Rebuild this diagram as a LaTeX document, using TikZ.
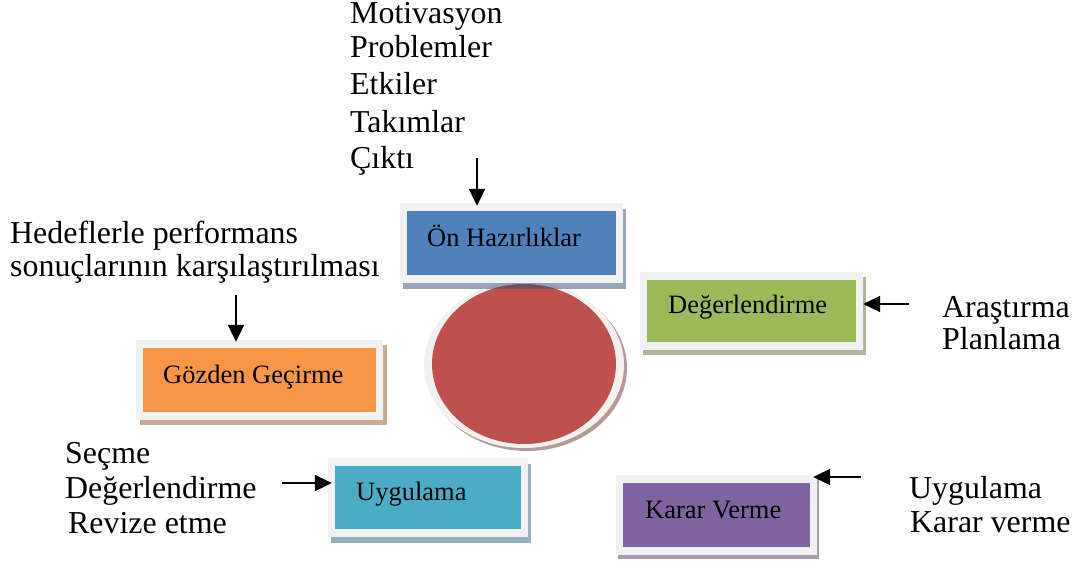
\documentclass[tikz,border=0pt]{standalone}
\usepackage{fontspec}
\setmainfont{Liberation Serif}
\usetikzlibrary{arrows.meta,shapes.geometric}

\definecolor{framegray}{HTML}{F1F1F1}
\definecolor{cblue}{HTML}{4F81BD}
\definecolor{cgreen}{HTML}{9BBB59}
\definecolor{corange}{HTML}{F79646}
\definecolor{cteal}{HTML}{4BACC6}
\definecolor{cpurple}{HTML}{8064A2}
\definecolor{cred}{HTML}{C0504D}

\tikzset{
  outtext/.style={anchor=base west, inner sep=0pt, font=\fontsize{31.9}{36}\selectfont},
  boxtext/.style={anchor=base west, inner sep=0pt, font=\fontsize{26.5}{30}\selectfont},
  frame/.style={fill=framegray, inner sep=0pt},
  pointer/.style={line width=2.2pt, -{Triangle[length=17pt,width=16pt]}},
}

% a framed box: shadow, light frame, coloured fill
% #1 name, #2 colour, #3 x1, #4 y1, #5 x2, #6 y2, #7 shadow dx, #8 shadow dy
\newcommand{\framedbox}[8]{%
  \fill[#2!60!black, opacity=0.5] (#3+#7,#4+#8) rectangle (#5+#7,#6+#8);
  \node[frame, minimum width=#5-#3, minimum height=#6-#4] (#1) at ({(#3+#5)/2},{(#4+#6)/2}) {};
  \fill[#2] ([shift={(7,8)}]#1.north west) rectangle ([shift={(-7,-8)}]#1.south east);
}

\begin{document}
\begin{tikzpicture}[x=1pt, y=-1pt]
\useasboundingbox (0,0) rectangle (1084,565);

% central disc with its rim and shadow
\fill[cred!60!black, opacity=0.5] (527,368) ellipse [x radius=100, y radius=83];
\fill[framegray] (524,365) ellipse [x radius=100, y radius=83];
\node[ellipse, fill=cred, inner sep=0pt, minimum width=184pt, minimum height=160pt] (disc) at (524,364) {};

% boxes
\framedbox{on}{cblue}{400}{203}{623}{283}{3}{6}
\framedbox{deg}{cgreen}{640}{272}{863}{350}{3}{5}
\framedbox{goz}{corange}{136}{340}{383}{420}{4}{5}
\framedbox{uyg}{cteal}{328}{458}{528}{537}{3}{6}
\framedbox{kar}{cpurple}{616}{475}{817}{555}{2}{4}

\node[boxtext] (onT)  at (427,246) {Ön Hazırlıklar};
\node[boxtext] (degT) at (668,313) {Değerlendirme};
\node[boxtext] (gozT) at (163,383) {Gözden Geçirme};
\node[boxtext] (uygT) at (356,500) {Uygulama};
\node[boxtext] (karT) at (645,518) {Karar Verme};

% surrounding notes
\node[outtext] (top1) at (350,23)  {Motivasyon};
\node[outtext] (top2) at (350,57)  {Problemler};
\node[outtext] (top3) at (350,94)  {Etkiler};
\node[outtext] (top4) at (350,132) {Takımlar};
\node[outtext] (top5) at (350,168) {Çıktı};

\node[outtext] (left1) at (10,243) {Hedeflerle performans};
\node[outtext] (left2) at (10,276) {sonuçlarının karşılaştırılması};

\node[outtext] (right1) at (942,317) {Araştırma};
\node[outtext] (right2) at (942,349) {Planlama};

\node[outtext] (bl1) at (65,463) {Seçme};
\node[outtext] (bl2) at (65,498) {Değerlendirme};
\node[outtext] (bl3) at (68,533) {Revize etme};

\node[outtext] (br1) at (909,498) {Uygulama};
\node[outtext] (br2) at (910,532) {Karar verme};

% pointers
\coordinate (pOn)  at (477,158);
\coordinate (pGoz) at (236,295);
\coordinate (pDeg) at (909,304);
\coordinate (pUyg) at (282,483);
\coordinate (pKar) at (861,477);

\draw[pointer, shorten >=-3pt] (pOn)  -- (pOn  |- on.north);
\draw[pointer, shorten >=-2pt] (pGoz) -- (pGoz |- goz.north);
\draw[pointer] (pDeg) -- (pDeg -| deg.east);
\draw[pointer, shorten >=-4pt] (pUyg) -- (pUyg -| uyg.west);
\draw[pointer, shorten >=-4pt] (pKar) -- (pKar -| kar.east);
\end{tikzpicture}
\end{document}
